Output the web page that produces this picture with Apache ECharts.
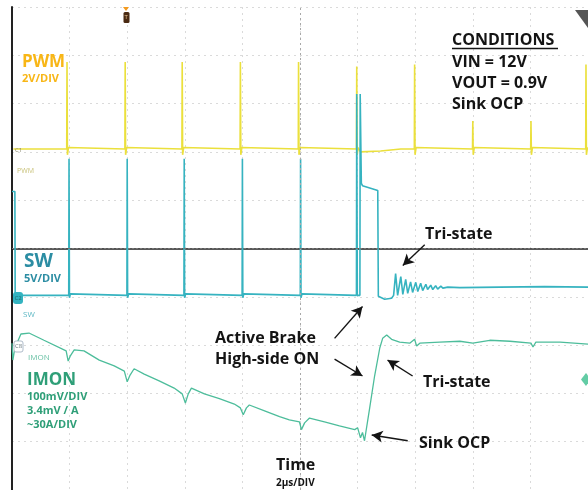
<!DOCTYPE html>
<html><head><meta charset="utf-8">
<script src="https://cdn.jsdelivr.net/npm/echarts@6/dist/echarts.min.js"></script>
<style>html,body{margin:0;padding:0;background:#fff}#c{width:588px;height:490px}</style>
</head><body><div id="c"></div>
<script>
// Horizontal: time in µs (2 µs/div). Vertical: screen divisions (-5..5).
const timeRange = [0, 20];
const divRange = [-5, 5];

// PWM trace (2V/DIV)
const pwmBase = 2.06;
const pwmSpikeTimes = [1.91, 3.93, 5.91, 7.93, 9.95, 11.97, 13.98, 16.0, 18.02, 19.93];
const pwmSpikeTops  = [3.86, 3.86, 3.86, 3.86, 3.86, 3.77, 3.81, 2.64, 2.64, 3.81];
const pwmExtra = [[12.1, 2.0], [12.8, 2.02], [13.5, 2.06]];

// SW trace (5V/DIV)
const swBase = -0.97;
const swStart = [[0, 1.18], [0.1, 1.18], [0.11, -0.97]];
const swSpikeTimes = [1.98, 4.0, 5.98, 8.0, 10.02];
const swSpikeTop = 1.86;
const swEvent = [
  [11.96, -0.97], [11.97, 3.2], [11.99, -0.97], [12.08, -0.97], [12.09, 3.2], [12.13, 1.35],
  [12.17, 1.30], [12.70, 1.20], [12.72, -0.99], [12.77, -1.01], [12.94, -1.05], [13.18, -1.03],
  [13.25, -0.97], [13.32, -0.52], [13.39, -0.97], [13.50, -0.58], [13.57, -0.95], [13.67, -0.64],
  [13.74, -0.93], [13.84, -0.69], [13.91, -0.91], [14.02, -0.70], [14.09, -0.89], [14.19, -0.72],
  [14.26, -0.87], [14.37, -0.74], [14.43, -0.85], [14.54, -0.76], [14.61, -0.85], [14.71, -0.77],
  [14.78, -0.84], [14.89, -0.78], [14.96, -0.82], [15.13, -0.80], [15.55, -0.81], [16.94, -0.80],
  [18.5, -0.79], [20.0, -0.80]
];

// IMON trace (100mV/DIV, ~30A/DIV)
const imon = [
  [0, -1.96], [0.03, -2.31], [0.10, -2.06], [0.31, -1.77], [0.59, -1.75], [1.11, -1.90],
  [1.88, -2.12], [1.95, -2.33], [2.02, -2.23], [2.16, -2.10], [2.50, -2.12], [3.03, -2.31],
  [3.55, -2.43], [3.90, -2.54], [4.00, -2.76], [4.10, -2.62], [4.24, -2.49], [4.59, -2.60],
  [5.11, -2.74], [5.63, -2.89], [5.91, -3.01], [6.02, -3.20], [6.12, -3.01], [6.23, -2.89],
  [6.68, -3.01], [7.20, -3.11], [7.72, -3.22], [7.93, -3.30], [8.03, -3.44], [8.14, -3.30],
  [8.24, -3.24], [8.77, -3.36], [9.29, -3.48], [9.63, -3.55], [9.98, -3.59], [10.05, -3.75],
  [10.16, -3.61], [10.33, -3.51], [10.85, -3.59], [11.37, -3.67], [11.90, -3.75], [12.00, -3.71],
  [12.10, -3.92], [12.17, -3.81], [12.24, -3.98], [12.28, -3.94], [12.42, -3.30], [12.59, -2.64],
  [12.77, -2.06], [12.87, -1.86], [13.01, -1.79], [13.18, -1.88], [13.46, -1.94], [13.81, -1.96],
  [13.98, -1.88], [14.05, -2.02], [14.16, -1.96], [14.85, -1.94], [15.55, -1.92], [16.0, -1.96],
  [16.59, -1.90], [17.29, -1.92], [18.02, -1.96], [18.09, -2.04], [18.19, -1.94], [19.03, -1.94],
  [20.0, -1.98]
];
const imonMarker = [[19.93, -2.71]];

// Annotation arrows [from, to] in (µs, div)
const arrows = [
  [[14.33, 0.08], [13.57, -0.35]],
  [[11.20, -1.86], [12.17, -1.20]],
  [[11.20, -2.29], [12.17, -2.64]],
  [[13.91, -2.64], [13.04, -2.31]],
  [[13.74, -3.98], [12.49, -3.86]]
];

// ---- build trace data ----
function spikes(times, tops, base, dip) {
  const out = [];
  times.forEach((s, i) => {
    const top = Array.isArray(tops) ? tops[i] : tops;
    out.push([s - 0.01, base], [s, top], [s + 0.015, base - dip], [s + 0.05, base + 0.03], [s + 0.09, base]);
  });
  return out;
}
let pwmData = [[0.05, pwmBase]].concat(spikes(pwmSpikeTimes, pwmSpikeTops, pwmBase, 0.12), pwmExtra, [[20, pwmBase]]);
pwmData.sort((a, b) => a[0] - b[0]);
let swData = swStart.concat(spikes(swSpikeTimes, swSpikeTop, swBase, 0.05), swEvent);
swData.sort((a, b) => a[0] - b[0]);

const chart = echarts.init(document.getElementById('c'), null, {renderer: 'canvas'});
const FONT = '"Open Sans", "DejaVu Sans", sans-serif';
function txt(x, y, text, size, color, weight) {
  return {type: 'text', x: x, y: y, z: 100, silent: true,
    style: {text: text, font: (weight || 'bold') + ' ' + size + 'px ' + FONT, fill: color,
      align: 'left', verticalAlign: 'middle', textAlign: 'left', textVerticalAlign: 'middle'}};
}
const BLACK = '#141414';
const GRID = {show: true, lineStyle: {color: '#dadada', type: [2, 4], width: 1}};
const option = {
  animation: false,
  backgroundColor: '#ffffff',
  grid: {left: 12, right: 0, top: 7, bottom: -2},
  xAxis: {
    type: 'value', min: timeRange[0], max: timeRange[1], interval: 2, position: 'top',
    axisLine: {show: true, lineStyle: {color: '#222', width: 1.5}},
    axisTick: {show: false}, axisLabel: {show: false},
    splitLine: GRID
  },
  yAxis: {
    type: 'value', min: divRange[0], max: divRange[1], interval: 1,
    axisLine: {show: true, onZero: false, lineStyle: {color: '#222', width: 2}},
    axisTick: {show: false}, axisLabel: {show: false},
    splitLine: GRID
  },
  series: [
    {type: 'line', name: 'center', data: [], z: 1, silent: true,
      markLine: {silent: true, symbol: 'none', label: {show: false},
        data: [
          {xAxis: 10, lineStyle: {color: '#a8a8a8', type: [2, 3], width: 1}},
          {yAxis: 0, lineStyle: {color: '#777777', type: [2, 2], width: 1}}
        ]}},
    {type: 'line', name: 'PWM', data: pwmData, showSymbol: false, z: 3,
      lineStyle: {color: '#ebe03c', width: 1.6}},
    {type: 'line', name: 'SW', data: swData, showSymbol: false, z: 4,
      lineStyle: {color: '#36b3c0', width: 1.6}},
    {type: 'line', name: 'IMON', data: imon, showSymbol: false, z: 5,
      lineStyle: {color: '#4dbd9b', width: 1.3}},
    {type: 'scatter', name: 'IMON marker', data: imonMarker, symbol: 'diamond', symbolSize: [10, 13], z: 6,
      itemStyle: {color: '#3cbf8e'}},
    {type: 'line', name: 'arrows', data: [], z: 20, silent: true,
      markLine: {silent: true, symbol: ['none', 'arrow'], symbolSize: [9, 11], label: {show: false},
        lineStyle: {color: BLACK, type: 'solid', width: 1.4},
        data: arrows.map(a => [{coord: a[0]}, {coord: a[1]}])}}
  ],
  graphic: [
    // conditions block
    txt(452, 40, 'CONDITIONS', 16, BLACK),
    {type: 'line', z: 100, shape: {x1: 452, y1: 48.5, x2: 558, y2: 48.5}, style: {stroke: BLACK, lineWidth: 1.5}},
    txt(452, 62, 'VIN = 12V', 16, BLACK),
    txt(452, 83, 'VOUT = 0.9V', 16, BLACK),
    txt(452, 104, 'Sink OCP', 16, BLACK),
    // channel labels
    txt(22, 62, 'PWM', 17, '#f8b616'),
    txt(22, 79, '2V/DIV', 11, '#f8b616'),
    txt(24, 262, 'SW', 19, '#2c8da3'),
    txt(24, 279, '5V/DIV', 11, '#2c8da3'),
    txt(27, 380, 'IMON', 17, '#2f9f78'),
    txt(27, 397, '100mV/DIV', 11, '#2f9f78'),
    txt(27, 411, '3.4mV / A', 11, '#2f9f78'),
    txt(27, 425, '~30A/DIV', 11, '#2f9f78'),
    // annotations
    txt(425, 234, 'Tri-state', 16, BLACK),
    txt(215, 338, 'Active Brake', 16, BLACK),
    txt(215, 359, 'High-side ON', 16, BLACK),
    txt(423, 382, 'Tri-state', 16, BLACK),
    txt(419, 443, 'Sink OCP', 16, BLACK),
    txt(276, 465, 'Time', 16, BLACK),
    txt(276, 483, '2µs/DIV', 10, BLACK),
    // scope channel tags
    txt(15, 150, 'C1', 6, '#8a8a70', 'normal'),
    txt(17, 171, 'PWM', 7, '#c9c27a', 'normal'),
    {type: 'rect', z: 90, shape: {x: 13, y: 292, width: 10, height: 12, r: 3}, style: {fill: '#33b3c0'}},
    txt(14.5, 298, 'C2', 6, '#1d6a72', 'normal'),
    txt(23, 315, 'SW', 8, '#5fb8c4', 'normal'),
    {type: 'rect', z: 90, shape: {x: 14, y: 341, width: 9, height: 11, r: 2}, style: {fill: '#fff', stroke: '#9ab', lineWidth: 0.8}},
    txt(15, 346.5, 'C8', 6, '#6a7a80', 'normal'),
    txt(28, 358, 'IMON', 8, '#6bc2a6', 'normal'),
    // trigger marker
    {type: 'polygon', z: 90, shape: {points: [[123, 7], [129, 7], [126, 11]]}, style: {fill: '#f39a1e'}},
    {type: 'rect', z: 90, shape: {x: 123.5, y: 12, width: 6, height: 11, r: 1.5}, style: {fill: '#4a2a12'}},
    txt(124.5, 17.5, 'T', 6, '#e8c090', 'normal'),
    // corner tab
    {type: 'polygon', z: 90, shape: {points: [[575, 10], [588, 10], [588, 28]]}, style: {fill: '#555'}}
  ]
};
chart.setOption(option);
</script>
</body></html>
